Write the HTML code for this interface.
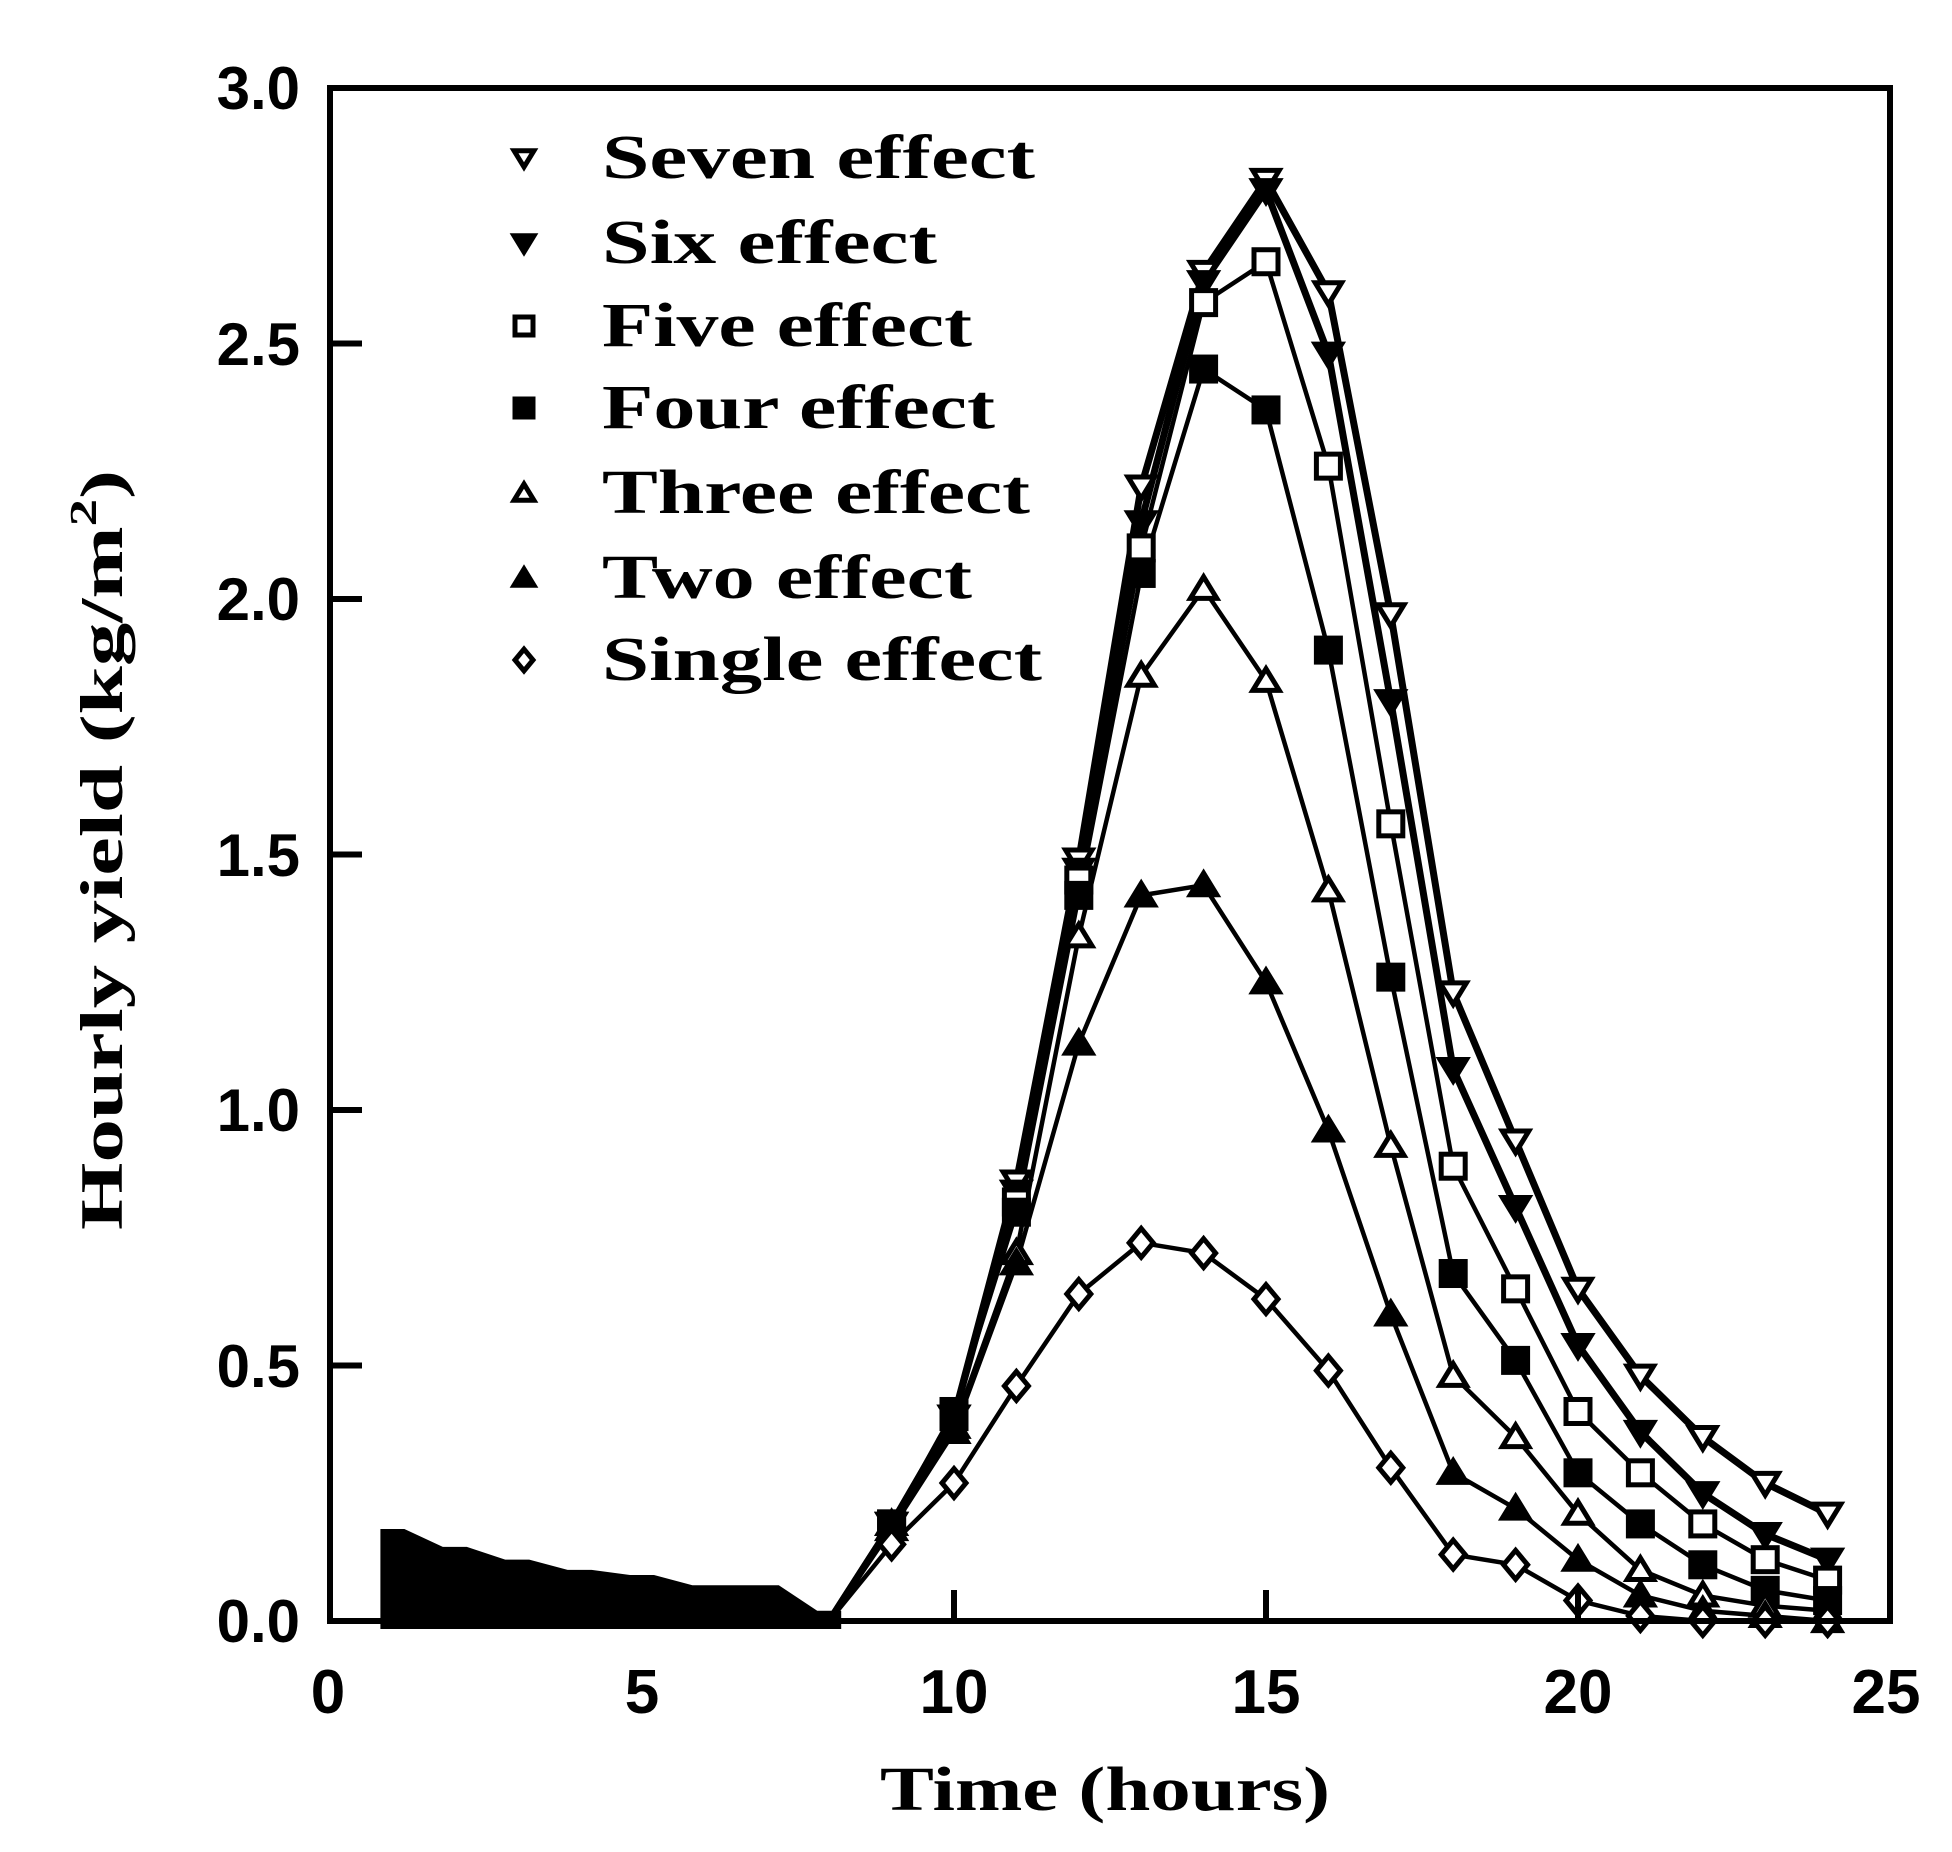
<!DOCTYPE html>
<html><head><meta charset="utf-8"><style>
html,body{margin:0;padding:0;background:#fff;}
svg{display:block;}
text{font-family:"Liberation Serif",serif;font-weight:bold;fill:#000;}
text.sn{font-family:"Liberation Sans",sans-serif;}
</style></head><body>
<svg id="s" width="1952" height="1852" viewBox="0 0 1952 1852" xmlns="http://www.w3.org/2000/svg">
<rect width="1952" height="1852" fill="#fff"/>
<g id="plot"></g>
<rect x="330" y="88" width="1560" height="1533" fill="none" stroke="#000" stroke-width="6"/>
<g stroke="#000" stroke-width="6">
<line x1="642" y1="1621" x2="642" y2="1590"/><line x1="954" y1="1621" x2="954" y2="1590"/>
<line x1="1266" y1="1621" x2="1266" y2="1590"/><line x1="1578" y1="1621" x2="1578" y2="1590"/>
<line x1="330" y1="1365.5" x2="362" y2="1365.5"/><line x1="330" y1="1110" x2="362" y2="1110"/>
<line x1="330" y1="854.5" x2="362" y2="854.5"/><line x1="330" y1="599" x2="362" y2="599"/>
<line x1="330" y1="343.5" x2="362" y2="343.5"/>
</g>
<g font-size="62" text-anchor="middle">
<text class="sn" x="328" y="1713">0</text><text class="sn" x="642" y="1713">5</text><text class="sn" x="954" y="1713">10</text>
<text class="sn" x="1266" y="1713">15</text><text class="sn" x="1578" y="1713">20</text><text class="sn" x="1886" y="1713">25</text>
</g>
<g font-size="60" text-anchor="end">
<text class="sn" x="300" y="1642">0.0</text><text class="sn" x="300" y="1387">0.5</text><text class="sn" x="300" y="1131">1.0</text>
<text class="sn" x="300" y="876">1.5</text><text class="sn" x="300" y="620">2.0</text><text class="sn" x="300" y="365">2.5</text><text class="sn" x="300" y="109">3.0</text>
</g>
<text x="1105" y="1810" font-size="62" text-anchor="middle" textLength="450" lengthAdjust="spacingAndGlyphs">Time (hours)</text>
<text transform="translate(122,850) rotate(-90)" font-size="60" text-anchor="middle" textLength="760" lengthAdjust="spacingAndGlyphs">Hourly yield (kg/m<tspan font-size="38" dy="-26">2</tspan><tspan dy="26">)</tspan></text>
<g font-size="62">
<text x="602" y="178" textLength="433" lengthAdjust="spacingAndGlyphs">Seven effect</text>
<text x="602" y="263" textLength="335" lengthAdjust="spacingAndGlyphs">Six effect</text>
<text x="602" y="346" textLength="370" lengthAdjust="spacingAndGlyphs">Five effect</text>
<text x="602" y="428" textLength="393" lengthAdjust="spacingAndGlyphs">Four effect</text>
<text x="602" y="513" textLength="428" lengthAdjust="spacingAndGlyphs">Three effect</text>
<text x="602" y="598" textLength="370" lengthAdjust="spacingAndGlyphs">Two effect</text>
<text x="602" y="680" textLength="440" lengthAdjust="spacingAndGlyphs">Single effect</text>
</g>
<g id="leg"></g>
</svg>
<script>
var X=function(t){return 330+t*62.4}, Y=function(v){return 1621-v*511};
var S=[
 ["tdo",[0,0,0,0,0,0,0,0,0.19,0.40,0.86,1.49,2.22,2.64,2.82,2.60,1.97,1.23,0.94,0.65,0.48,0.36,0.27,0.21]],
 ["tdf",[0,0,0,0,0,0,0,0,0.19,0.40,0.84,1.47,2.15,2.62,2.80,2.48,1.80,1.08,0.81,0.54,0.37,0.25,0.17,0.12]],
 ["so",[0,0,0,0,0,0,0,0,0.19,0.40,0.82,1.45,2.10,2.58,2.66,2.26,1.56,0.89,0.65,0.41,0.29,0.19,0.12,0.08]],
 ["sf",[0,0,0,0,0,0,0,0,0.19,0.41,0.80,1.42,2.05,2.45,2.37,1.90,1.26,0.68,0.51,0.29,0.19,0.11,0.06,0.04]],
 ["tuo",[0,0,0,0,0,0,0,0,0.19,0.38,0.72,1.34,1.85,2.02,1.84,1.43,0.93,0.48,0.36,0.21,0.10,0.05,0.03,0.02]],
 ["tuf",[0,0,0,0,0,0,0,0,0.18,0.37,0.70,1.13,1.42,1.44,1.25,0.96,0.60,0.29,0.22,0.12,0.05,0.02,0.01,0]],
 ["do",[0,0,0,0,0,0,0,0,0.15,0.27,0.46,0.64,0.74,0.72,0.63,0.49,0.30,0.13,0.11,0.04,0.01,0,0,0]]
];
var ns="http://www.w3.org/2000/svg",g=document.getElementById("plot"),lg=document.getElementById("leg");
function el(p,n,a){var e=document.createElementNS(ns,n);for(var k in a)e.setAttribute(k,a[k]);p.appendChild(e);return e;}
function mk(p,t,x,y,r){
 var f=t.slice(-1)=="f"?"#000":"#fff",sw=5;
 if(t[0]=="s")el(p,"rect",{x:x-r,y:y-r,width:2*r,height:2*r,fill:f,stroke:"#000","stroke-width":sw});
 else if(t=="do")el(p,"polygon",{points:[x,y-r*1.2,x+r,y,x,y+r*1.2,x-r,y].join(","),fill:f,stroke:"#000","stroke-width":sw});
 else if(t[1]=="d")el(p,"polygon",{points:[x-r*1.1,y-r*0.8,x+r*1.1,y-r*0.8,x,y+r].join(","),fill:f,stroke:"#000","stroke-width":sw});
 else el(p,"polygon",{points:[x-r*1.1,y+r*0.8,x+r*1.1,y+r*0.8,x,y-r].join(","),fill:f,stroke:"#000","stroke-width":sw});
}
var tops=[0.18,0.145,0.12,0.10,0.09,0.07,0.07,0.02],pts=[(X(1)-12)+","+(Y(0)+8)];
for(var i=0;i<8;i++){pts.push((X(i+1)-12)+","+Y(tops[i]));pts.push((X(i+1)+12)+","+Y(tops[i]));}
pts.push((X(8)+12)+","+(Y(0)+8));
el(g,"polygon",{points:pts.join(" "),fill:"#000"});
S.forEach(function(s,k){
 var d=s[1].slice(7).map(function(v,i){return X(i+8)+","+Y(v)}).join(" ");
 el(g,"polyline",{points:d,fill:"none",stroke:"#000","stroke-width":k<2?7:4.5});
});
S.forEach(function(s){for(var i=8;i<24;i++)mk(g,s[0],X(i+1),Y(s[1][i]),12);});
var ly=[158,243,326,408,493,578,660];
S.forEach(function(s,k){mk(lg,s[0],524,ly[k],9);});
</script>
</body></html>
